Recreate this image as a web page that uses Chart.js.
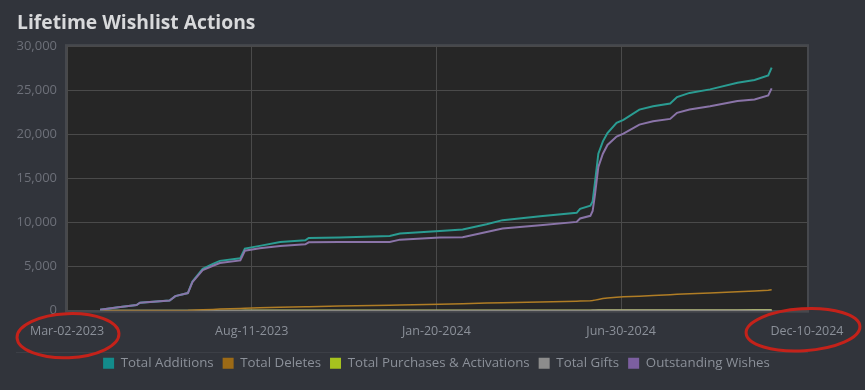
<!DOCTYPE html>
<html>
<head>
<meta charset="utf-8">
<title>Lifetime Wishlist Actions</title>
<script src="https://cdn.jsdelivr.net/npm/chart.js@4/dist/chart.umd.min.js"></script>
<style>
    html, body { margin: 0; padding: 0; background: #31343b; }
    #wrap { width: 865px; height: 390px; }
</style>
</head>
<body>
<div id="wrap"><canvas id="wishlist-chart" width="865" height="390"></canvas></div>
<script>
// x positions are days since Mar-02-2023
const tickDays = [0, 162, 324, 486, 649];
const tickLabels = ['Mar-02-2023', 'Aug-11-2023', 'Jan-20-2024', 'Jun-30-2024', 'Dec-10-2024'];

const days = [29, 45, 61, 64, 90, 95, 106, 110, 119, 128, 134, 152, 156, 169, 187, 209, 212, 239, 283, 292,
    327, 347, 368, 382, 415, 447, 450, 459, 461, 463, 466, 470, 474, 482, 488, 502, 514, 529, 535, 546,
    564, 588, 603, 615, 618];

const totalAdditions = [100, 400, 650, 900, 1150, 1650, 2000, 3300, 4750, 5300, 5650, 5950, 7050, 7350, 7800, 7980, 8250, 8290, 8480, 8750,
    9050, 9200, 9800, 10270, 10700, 11100, 11550, 11900, 12400, 14500, 17800, 19200, 20150, 21300, 21650, 22800, 23190, 23500, 24220, 24700,
    25100, 25850, 26160, 26690, 27570];

const totalDeletes = [0, 0, 0, 0, 0, 0, 20, 50, 100, 140, 180, 260, 280, 340, 400, 450, 460, 520, 610, 640,
    740, 800, 860, 900, 990, 1080, 1090, 1130, 1150, 1200, 1280, 1380, 1450, 1520, 1580, 1650, 1730, 1820, 1860, 1920,
    2020, 2150, 2240, 2320, 2370];

const totalPurchases = [0, 0, 0, 0, 0, 0, 2, 3, 5, 6, 7, 8, 9, 10, 12, 13, 13, 14, 16, 17,
    19, 20, 22, 24, 27, 30, 31, 33, 34, 36, 40, 44, 47, 50, 52, 54, 56, 58, 59, 60,
    62, 64, 66, 68, 69];

const totalGifts = [0, 0, 0, 0, 0, 0, 0, 0, 1, 1, 1, 2, 2, 2, 3, 3, 3, 4, 4, 5,
    5, 6, 6, 7, 7, 8, 8, 8, 9, 9, 10, 10, 11, 11, 12, 12, 13, 13, 14, 14,
    15, 15, 16, 16, 16];

const outstandingWishes = [100, 400, 650, 900, 1150, 1650, 2000, 3250, 4600, 5100, 5400, 5700, 6800, 7080, 7330, 7530, 7760, 7780, 7800, 8060,
    8290, 8330, 8930, 9320, 9700, 10070, 10460, 10760, 11300, 13100, 16300, 17800, 18800, 19750, 20080, 21100, 21480, 21750, 22440, 22810,
    23190, 23770, 23950, 24410, 25210];

const seriesNames = ['Total Additions', 'Total Deletes', 'Total Purchases & Activations', 'Total Gifts', 'Outstanding Wishes'];
const lineColors = ['#2a9c92', '#b07d25', '#a9b84a', '#a3a196', '#8a74a8'];
const legendColors = ['#138b8b', '#9c6a16', '#a6c21e', '#8c8c8c', '#7c5fa0'];

const FONT = '"Open Sans", "DejaVu Sans", sans-serif';

function toPoints(values) {
    return days.map((d, i) => ({ x: d, y: values[i] }));
}

// plot background, frame, separator and the red hand-drawn circles
const decorations = {
    id: 'decorations',
    beforeDraw(chart) {
        const { ctx, chartArea: a } = chart;
        ctx.save();
        ctx.fillStyle = '#262626';
        ctx.fillRect(a.left, a.top, a.right - a.left, a.bottom - a.top);
        ctx.restore();
    },
    afterDraw(chart) {
        const { ctx, chartArea: a } = chart;
        const xs = chart.scales.x;
        ctx.save();
        ctx.strokeStyle = '#46484d';
        ctx.lineWidth = 2;
        ctx.strokeRect(a.left - 1, a.top - 1, a.right - a.left + 2, a.bottom - a.top + 2);

        ctx.strokeStyle = '#3c3f46';
        ctx.lineWidth = 1;
        ctx.beginPath();
        ctx.moveTo(16, 352.5);
        ctx.lineTo(a.right + 1, 352.5);
        ctx.stroke();

        ctx.strokeStyle = '#c4221a';
        ctx.lineWidth = 3;
        const first = xs.getPixelForValue(tickDays[0]);
        const last = xs.getPixelForValue(tickDays[tickDays.length - 1]);
        ctx.beginPath();
        ctx.ellipse(first + 1, a.bottom + 25, 51, 22, -0.04, 0, Math.PI * 2);
        ctx.stroke();
        ctx.beginPath();
        ctx.ellipse(last - 4, a.bottom + 19, 57, 21, -0.06, 0, Math.PI * 2);
        ctx.stroke();
        ctx.restore();
    }
};

const ctx = document.getElementById('wishlist-chart').getContext('2d');

const seriesValues = [totalAdditions, totalDeletes, totalPurchases, totalGifts, outstandingWishes];
const drawOrder = [1, 2, 4, 3, 0];

window.wishlistChart = new Chart(ctx, {
    type: 'line',
    data: {
        datasets: seriesNames.map((name, i) => ({
            label: name,
            data: toPoints(seriesValues[i]),
            borderColor: lineColors[i],
            backgroundColor: legendColors[i],
            borderWidth: i === 1 ? 1.5 : 2,
            pointRadius: 0,
            tension: 0,
            clip: (i === 2 || i === 3) ? false : undefined,
            order: drawOrder[i]
        }))
    },
    options: {
        responsive: false,
        animation: false,
        layout: { padding: { left: 17, right: 9, top: 0, bottom: 10 } },
        scales: {
            x: {
                type: 'linear',
                min: tickDays[0],
                max: tickDays[tickDays.length - 1],
                afterBuildTicks: scale => {
                    scale.ticks = tickDays.map(v => ({ value: v }));
                },
                afterFit: scale => { scale.height = 37; },
                ticks: {
                    autoSkip: false,
                    maxRotation: 0,
                    padding: 13,
                    color: '#8b9099',
                    font: { family: FONT, size: 12.5 },
                    callback: value => tickLabels[tickDays.indexOf(value)]
                },
                grid: { color: '#4a4a4a', drawTicks: false },
                border: { display: false }
            },
            y: {
                min: 0,
                max: 30000,
                afterFit: scale => { scale.width = 50; },
                ticks: {
                    stepSize: 5000,
                    padding: 10,
                    color: '#6d7079',
                    font: { family: FONT, size: 13 },
                    callback: value => value.toLocaleString('en-US')
                },
                grid: { color: '#4a4a4a', drawTicks: false },
                border: { display: false }
            },
            // empty right-hand axis that only reserves the space right of the plot
            spacer: {
                position: 'right',
                afterFit: scale => { scale.width = 49; },
                ticks: { display: false },
                grid: { display: false, drawTicks: false },
                border: { display: false }
            }
        },
        plugins: {
            title: {
                display: true,
                text: 'Lifetime Wishlist Actions',
                align: 'start',
                color: '#d8d9db',
                font: { family: FONT, size: 19.3, weight: 'bold' },
                padding: { top: 12, bottom: 11 }
            },
            legend: {
                position: 'bottom',
                labels: {
                    boxWidth: 11,
                    boxHeight: 11,
                    padding: 9,
                    color: '#8b9099',
                    font: { family: FONT, size: 13.3 },
                    generateLabels: chart => chart.data.datasets.map((ds, i) => ({
                        text: ds.label,
                        fillStyle: legendColors[i],
                        strokeStyle: legendColors[i],
                        lineWidth: 0,
                        fontColor: '#8b9099',
                        datasetIndex: i,
                        hidden: false
                    }))
                }
            },
            tooltip: { enabled: false }
        }
    },
    plugins: [decorations]
});
</script>
</body>
</html>
